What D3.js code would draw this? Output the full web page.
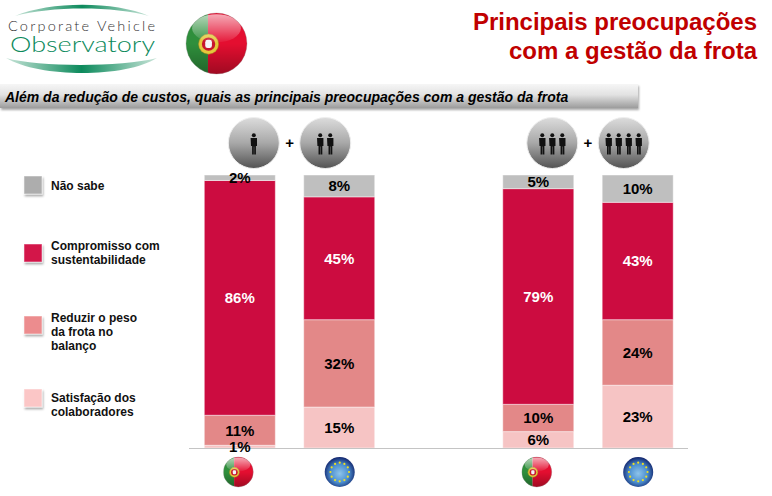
<!DOCTYPE html>
<html><head><meta charset="utf-8">
<script src="https://cdnjs.cloudflare.com/ajax/libs/d3/7.8.5/d3.min.js"></script>
<style>html,body{margin:0;padding:0;background:#fff}svg{display:block}text{font-family:"Liberation Sans",Arial,sans-serif}</style>
</head><body><div id="c"></div>
<script>
const chartTitle=["Principais preocupações","com a gestão da frota"];
const question="Além da redução de custos, quais as principais preocupações com a gestão da frota";
const sizeGroups=["small","large"];
const regions=["PT","EU"];
const categories=["Satisfação dos colaboradores","Reduzir o peso da frota no balanço","Compromisso com sustentabilidade","Não sabe"];
const legendLines=[["Não sabe"],["Compromisso com","sustentabilidade"],["Reduzir o peso","da frota no","balanço"],["Satisfação dos","colaboradores"]];
const legendOrder=[3,2,1,0];
const colors=["#f6c4c4","#e38888","#cc0c40","#bfbfbf"];
const legendColors=["#fbc6c6","#ec8c8e","#d3124a","#adadad"];
const smallPT=[1,11,86,2];
const smallEU=[15,32,45,8];
const largePT=[6,10,79,5];
const largeEU=[23,24,43,10];
const bars=[["small","PT",smallPT],["small","EU",smallEU],["large","PT",largePT],["large","EU",largeEU]];

const W=772,H=496;
const svg=d3.select("#c").append("svg").attr("width",W).attr("height",H);
const defs=svg.append("defs");
function lin(id,stops,horizontal){const g=defs.append("linearGradient").attr("id",id).attr("x1",0).attr("y1",0).attr("x2",horizontal?1:0).attr("y2",horizontal?0:1);
 stops.forEach(s=>g.append("stop").attr("offset",s[0]).attr("stop-color",s[1]).attr("stop-opacity",s[2]==null?1:s[2]));}
lin("band",[[0,"#f6f6f6"],[.45,"#e2e2e2"],[1,"#9c9c9c"]]);
lin("head",[[0,"#dcdcdc"],[.5,"#a8a8a8"],[1,"#525252"]]);
lin("gloss",[[0,"#fff",.65],[1,"#fff",.05]]);
lin("shade",[[.5,"#000",0],[1,"#000",.3]]);
lin("swoosh",[[0,"#c8e4d8"],[.5,"#0c8a5c"],[1,"#c8e4d8"]],true);
const rg=defs.append("radialGradient").attr("id","eu").attr("cx",.5).attr("cy",.55).attr("r",.55);
rg.append("stop").attr("offset",0).attr("stop-color","#8ec4ea");rg.append("stop").attr("offset",.55).attr("stop-color","#4c8fd0");rg.append("stop").attr("offset",1).attr("stop-color","#12246c");
const f=defs.append("filter").attr("id","sh").attr("x","-20%").attr("y","-20%").attr("width","140%").attr("height","160%");
f.append("feDropShadow").attr("dx",1).attr("dy",2).attr("stdDeviation",1.2).attr("flood-color","#000").attr("flood-opacity",.35);

function flagPT(cx,cy,r,id){
 const g=svg.append("g");
 defs.append("clipPath").attr("id",id).append("circle").attr("cx",cx).attr("cy",cy).attr("r",r);
 const c=g.append("g").attr("clip-path",`url(#${id})`);
 c.append("rect").attr("x",cx-r).attr("y",cy-r).attr("width",r*.72).attr("height",2*r).attr("fill","#2f8f3c");
 c.append("rect").attr("x",cx-r+r*.72).attr("y",cy-r).attr("width",2*r).attr("height",2*r).attr("fill","#e40e30");
 c.append("rect").attr("x",cx-r).attr("y",cy-r).attr("width",2*r).attr("height",2*r).attr("fill","url(#shade)");
 const ex=cx-r*.26;
 c.append("circle").attr("cx",ex).attr("cy",cy+r*.02).attr("r",r*.33).attr("fill","#e4c83c").attr("stroke","#a88a20").attr("stroke-width",.5);
 c.append("circle").attr("cx",ex).attr("cy",cy+r*.02).attr("r",r*.22).attr("fill","#c8162c");
 c.append("rect").attr("x",ex-r*.11).attr("y",cy-r*.12).attr("width",r*.22).attr("height",r*.27).attr("rx",r*.08).attr("fill","#f4f4f8");
 c.append("ellipse").attr("cx",cx).attr("cy",cy-r*.5).attr("rx",r*.8).attr("ry",r*.46).attr("fill","url(#gloss)");
 g.append("circle").attr("cx",cx).attr("cy",cy).attr("r",r).attr("fill","none").attr("stroke","#888").attr("stroke-width",.5).attr("stroke-opacity",.6);
}
function flagEU(cx,cy,r){
 svg.append("circle").attr("cx",cx).attr("cy",cy).attr("r",r).attr("fill","url(#eu)");
 d3.range(12).forEach(i=>{const a=i/12*2*Math.PI;
  svg.append("circle").attr("cx",cx+Math.cos(a)*r*.62).attr("cy",cy+Math.sin(a)*r*.62).attr("r",1.1).attr("fill","#f0e020");});
}
function person(g,x,cy,s){
 g.append("circle").attr("cx",x).attr("cy",cy-9.2*s).attr("r",2*s).attr("fill","#111");
 g.append("path").attr("fill","#111").attr("d",`M${x-3.2*s} ${cy-6.4*s}h${6.4*s}v${7.8*s}h${-1.1*s}v${8.6*s}h${-1.7*s}v${-8*s}h${-.4*s}v${8*s}h${-1.7*s}v${-8.6*s}h${-1.1*s}z`);
}
function head(cx,cy,n,sp){
 const g=svg.append("g");
 g.append("circle").attr("cx",cx).attr("cy",cy).attr("r",25.5).attr("fill","url(#head)").attr("stroke","#eee").attr("stroke-width",1);
 d3.range(n).forEach(i=>person(g,cx+(i-(n-1)/2)*sp,cy+1.5,1));
}

// header
svg.append("path").attr("d","M15 16 C50 1 115 1 149 16 C115 6 50 6 15 16Z").attr("fill","url(#swoosh)");
svg.append("path").attr("d","M6 58 C40 67.3 120 67.3 157 58 C125 78 40 78 6 58Z").attr("fill","url(#swoosh)");
svg.append("text").attr("x",8).attr("y",31).attr("font-size",14.5).attr("fill","#333").attr("textLength",147).attr("lengthAdjust","spacing").style("font-family","Lato").style("font-weight",300).text("Corporate Vehicle");
svg.append("text").attr("x",10).attr("y",52).attr("font-size",21).attr("fill","#0c8a5c").attr("textLength",145).attr("lengthAdjust","spacingAndGlyphs").style("font-family","Lato").style("font-weight",300).text("Observatory");
flagPT(216.5,43.5,30.5,"cp0");
chartTitle.forEach((t,i)=>svg.append("text").attr("x",757).attr("y",[30,59][i]).attr("text-anchor","end").attr("font-size",24).attr("font-weight","bold").attr("fill","#c00000").text(t));
svg.append("rect").attr("x",0).attr("y",84).attr("width",638).attr("height",24).attr("fill","url(#band)").attr("filter","url(#sh)");
svg.append("text").attr("x",5).attr("y",102).attr("font-size",14).attr("font-weight","bold").attr("font-style","italic").attr("fill","#000").text(question);

// scales
const y=d3.scaleLinear().domain([0,100]).range([448,175]);
const outer=d3.scaleBand().domain(sizeGroups).range([204.3,673.2]).paddingInner(.429).paddingOuter(0);
const inner=d3.scaleBand().domain(regions).range([0,outer.bandwidth()]).paddingInner(.2857).paddingOuter(0);
const bx=(g,r)=>outer(g)+inner(r);
const bc=(g,r)=>bx(g,r)+inner.bandwidth()/2;

bars.forEach(([g,r,vals])=>{
 const tot=d3.sum(vals),stack=d3.cumsum(vals);
 vals.forEach((v,i)=>{
  const y0=y((i?stack[i-1]:0)/tot*100),y1=y(stack[i]/tot*100);
  svg.append("rect").attr("x",bx(g,r)).attr("y",y1).attr("width",inner.bandwidth()).attr("height",y0-y1).attr("fill",colors[i]).attr("stroke","#fff").attr("stroke-opacity",.45).attr("stroke-width",1);
 });
});
svg.append("line").attr("x1",189).attr("x2",688).attr("y1",448.5).attr("y2",448.5).attr("stroke","#c4c4c4");
bars.forEach(([g,r,vals])=>{
 const tot=d3.sum(vals),stack=d3.cumsum(vals);
 vals.forEach((v,i)=>{
  const y0=y((i?stack[i-1]:0)/tot*100),y1=y(stack[i]/tot*100);
  svg.append("text").attr("x",bc(g,r)).attr("y",(y0+y1)/2+5.4).attr("text-anchor","middle").attr("font-size",15).attr("font-weight","bold").attr("fill",i===2?"#fff":"#000").text(v+"%");
 });
 if(r==="PT")flagPT(bc(g,r)-1.5,472,15,"cp"+g);else flagEU(bc(g,r)+.5,472,15);
});

// people icons
const heads=[[bc("small","PT")+14,1,0],[bc("small","EU")-14,2,10],[bc("large","PT")+14,3,10],[bc("large","EU")-14,4,10]];
heads.forEach(h=>head(h[0],143,h[1],h[2]));
sizeGroups.forEach(g=>svg.append("text").attr("x",outer(g)+outer.bandwidth()/2).attr("y",148).attr("text-anchor","middle").attr("font-size",15).attr("font-weight","bold").text("+"));

// legend
const ly=[185,253,325,398],lty=[190,250,322,402];
legendOrder.forEach((c,i)=>{
 svg.append("rect").attr("x",24).attr("y",ly[i]-9).attr("width",18).attr("height",18).attr("fill",legendColors[c]).attr("stroke","#fff").attr("stroke-opacity",.5).attr("filter","url(#sh)");
 legendLines[i].forEach((l,k)=>svg.append("text").attr("x",51).attr("y",lty[i]+k*14).attr("font-size",12).attr("font-weight","bold").attr("fill","#111").text(l));
});
</script></body></html>
